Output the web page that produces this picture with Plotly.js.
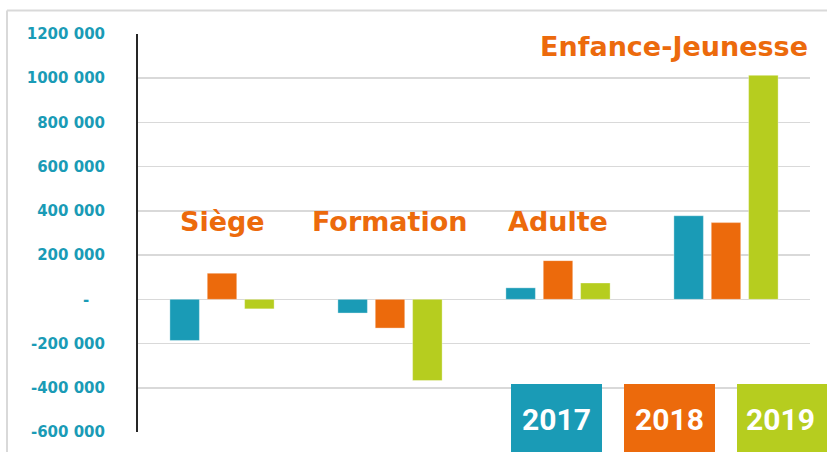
<!DOCTYPE html>
<html>
<head>
<meta charset="utf-8">
<script src="https://cdn.plot.ly/plotly-3.0.1.min.js"></script>
<style>html,body{margin:0;padding:0;background:#fff;}#chart{width:827px;height:452px;}</style>
</head>
<body>
<div id="chart"></div>
<script>
const categories = ["Siège", "Formation", "Adulte", "Enfance-Jeunesse"];
const years = ["2017", "2018", "2019"];
const values2017 = [-186000, -62000, 52000, 378000];
const values2018 = [118000, -130000, 175000, 347000];
const values2019 = [-43000, -367000, 74000, 1013000];
const tickValues = [-600000, -400000, -200000, 0, 200000, 400000, 600000, 800000, 1000000, 1200000];
const tickLabels = ["-600 000", "-400 000", "-200 000", "-\u00a0\u00a0\u00a0", "200 000", "400 000", "600 000", "800 000", "1000 000", "1200 000"];
const colors = ["#1a9bb6", "#ec6a0c", "#b6cd1f"];

const series = [values2017, values2018, values2019];
const traces = series.map((vals, i) => ({
  type: "bar",
  x: categories,
  y: vals,
  name: years[i],
  marker: {color: colors[i], line: {color: "rgba(255,255,255,0.35)", width: 1}},
  hoverinfo: "none"
}));

const pxX = px => (px - 138) / 672;
const pxY = py => (432 - py) / 398.5;

const shapes = [
  {type: "line", xref: "paper", yref: "paper", x0: pxX(7), x1: pxX(7), y0: pxY(10), y1: pxY(460), line: {color: "#d9d9d9", width: 2}},
  {type: "line", xref: "paper", yref: "paper", x0: pxX(7), x1: pxX(830), y0: pxY(10), y1: pxY(10), line: {color: "#d9d9d9", width: 2}}
];
const legendBoxes = [[511, 602], [624, 715], [737, 830]];
const annotations = [];
legendBoxes.forEach((b, i) => {
  shapes.push({type: "rect", xref: "paper", yref: "paper", x0: pxX(b[0]), x1: pxX(b[1]), y0: pxY(460), y1: pxY(384), fillcolor: colors[i], line: {width: 0}, layer: "above"});
  annotations.push({xref: "paper", yref: "paper", x: pxX((b[0] + Math.min(b[1], 827 + 4)) / 2 - (i === 2 ? 3 : 0)), y: pxY(419), text: "<b>" + years[i] + "</b>", showarrow: false, xanchor: "center", yanchor: "middle", font: {family: "Roboto", size: 30, color: "#ffffff"}});
});
const labelY = [350000, 350000, 350000];
categories.slice(0, 3).forEach((c, i) => {
  annotations.push({xref: "x", yref: "y", x: c, y: labelY[i], text: "<b>" + c + "</b>", showarrow: false, xanchor: "center", yanchor: "middle", font: {family: "DejaVu Sans", size: 27, color: "#ec6a0c"}});
});
annotations.push({xref: "paper", yref: "y", x: 1.0, y: 1145000, text: "<b>" + categories[3] + "</b>", showarrow: false, xanchor: "right", yanchor: "middle", font: {family: "DejaVu Sans", size: 27, color: "#ec6a0c"}});

const layout = {
  width: 827, height: 452,
  margin: {l: 138, r: 17, t: 33.5, b: 20, pad: 0},
  paper_bgcolor: "#ffffff", plot_bgcolor: "#ffffff",
  barmode: "group", bargap: 0.333, bargroupgap: 0.21,
  showlegend: false,
  xaxis: {showticklabels: false, showgrid: false, zeroline: false, showline: false, ticks: ""},
  yaxis: {range: [-600000, 1200000], tickvals: tickValues, ticktext: tickLabels, showgrid: true, gridcolor: "#d9d9d9", gridwidth: 1.5,
    zeroline: false, showline: true, linecolor: "#262626", linewidth: 2, ticks: "", ticklabelstandoff: 28,
    tickfont: {family: "DejaVu Sans", size: 15, color: "#1a9bb6", weight: "bold"}},
  shapes: shapes,
  annotations: annotations
};
Plotly.newPlot("chart", traces, layout, {displayModeBar: false, staticPlot: true});
</script>
</body>
</html>
